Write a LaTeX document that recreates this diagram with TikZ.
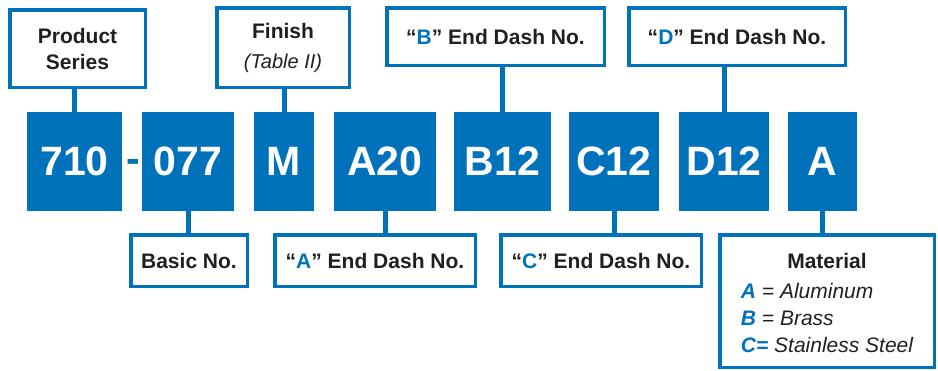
\documentclass[tikz,border=0pt]{standalone}
\usepackage{fontspec}
\setmainfont{Liberation Sans}
\definecolor{cblue}{HTML}{0072BC}
\definecolor{ctext}{HTML}{231F20}
\begin{document}
\begin{tikzpicture}[x=1pt,y=-1pt,
  code/.style={fill=cblue, text=white, font=\fontsize{41}{41}\selectfont\bfseries, inner sep=0pt, minimum height=99pt},
  lab/.style={draw=cblue, line width=3.5pt, fill=white, text=ctext, font=\fontsize{21}{26}\selectfont\bfseries, inner sep=0pt, align=center},
  labtext/.style={text=ctext, font=\fontsize{21}{27}\selectfont\bfseries, inner sep=0pt, align=center},
  conn/.style={draw=cblue, line width=5pt}]
\useasboundingbox (0,0) rectangle (938,370);
% code boxes
\node[code, minimum width=95pt] (c710) at (74.5,161.5) {710};
\node[code, minimum width=92pt] (c077) at (188,161.5) {077};
\node[code, minimum width=60pt] (cM) at (284,161.5) {M};
\node[code, minimum width=102pt] (cA20) at (385,161.5) {A20};
\node[code, minimum width=97pt] (cB12) at (502.5,161.5) {B12};
\node[code, minimum width=90pt] (cC12) at (614,161.5) {C12};
\node[code, minimum width=90pt] (cD12) at (724,161.5) {D12};
\node[code, minimum width=69pt] (cA) at (822.5,161.5) {A};
\node[text=cblue, font=\fontsize{41}{41}\selectfont\bfseries, inner sep=0pt] (dash) at (133,166) {-};
% labels
\node[lab, minimum width=135.5pt, minimum height=77.5pt] (lps) at (77.5,48.5) {Product\\Series};
\node[lab, minimum width=132.5pt, minimum height=79.5pt] (lfin) at (283,47.5) {Finish\\[4pt]{\mdseries\itshape\fontsize{20}{26}\selectfont (Table II)}};
\node[lab, minimum width=217.5pt, minimum height=57.5pt] (lB) at (495.5,36.5) {“\textcolor{cblue}{B}” End Dash No.};
\node[lab, minimum width=216.5pt, minimum height=57.5pt] (lD) at (737,36.5) {“\textcolor{cblue}{D}” End Dash No.};
\node[lab, minimum width=116.5pt, minimum height=51.5pt] (lbasic) at (189,260.5) {Basic No.};
\node[lab, minimum width=200.5pt, minimum height=51.5pt] (lA) at (375,260.5) {“\textcolor{cblue}{A}” End Dash No.};
\node[lab, minimum width=200.5pt, minimum height=51.5pt] (lC) at (601,260.5) {“\textcolor{cblue}{C}” End Dash No.};
\node[lab, minimum width=214.5pt, minimum height=132.5pt] (lmat) at (827,301) {};
\node[labtext] (lmattxt) at ([yshift=-6pt]lmat.center) {Material\\[3pt]{\mdseries\begin{tabular}[t]{@{}l@{}}\textcolor{cblue}{\bfseries\itshape A} \itshape = Aluminum\\\textcolor{cblue}{\bfseries\itshape B} \itshape = Brass\\\textcolor{cblue}{\bfseries\itshape C=} \itshape Stainless Steel\end{tabular}}};
% connectors
\draw[conn] (c710.north) -- (c710.north |- lps.south);
\draw[conn] (cM.north) -- (cM.north |- lfin.south);
\draw[conn] (cB12.north) -- (cB12.north |- lB.south);
\draw[conn] (cD12.north) -- (cD12.north |- lD.south);
\draw[conn] (c077.south) -- (c077.south |- lbasic.north);
\draw[conn] (cA20.south) -- (cA20.south |- lA.north);
\draw[conn] (cC12.south) -- (cC12.south |- lC.north);
\draw[conn] (cA.south) -- (cA.south |- lmat.north);
\end{tikzpicture}
\end{document}
